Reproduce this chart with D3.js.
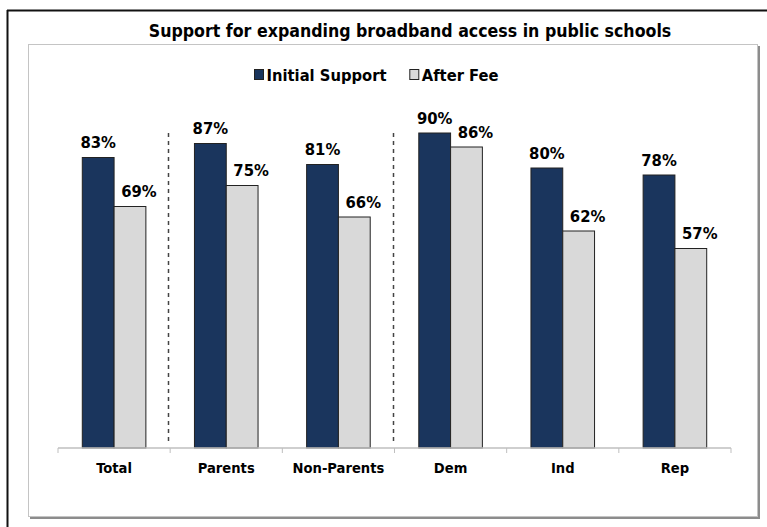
<!DOCTYPE html>
<html>
<head>
<meta charset="utf-8">
<script src="https://cdn.jsdelivr.net/npm/d3@7"></script>
<style>
  html, body { margin: 0; padding: 0; background: #fff; }
  svg { display: block; }
  text { font-family: "DejaVu Sans Condensed", "DejaVu Sans", Tahoma, sans-serif; font-weight: bold; fill: #000; }
</style>
</head>
<body>
<svg id="chart" width="767" height="527"></svg>
<script>
const title = "Support for expanding broadband access in public schools";
const categories = ["Total", "Parents", "Non-Parents", "Dem", "Ind", "Rep"];
const seriesNames = ["Initial Support", "After Fee"];
const initialSupport = [83, 87, 81, 90, 80, 78];
const afterFee = [69, 75, 66, 86, 62, 57];
const separatorsAfter = ["Total", "Non-Parents"];

const colors = ["#1a355d", "#d9d9d9"];
const values = [initialSupport, afterFee];
const labelShift = [0, 9];

const svg = d3.select("#chart");
const W = 767, H = 527;

// outer frame (black)
svg.append("line").attr("x1", 7).attr("x2", W).attr("y1", 10.5).attr("y2", 10.5)
  .attr("stroke", "#111").attr("stroke-width", 2);
svg.append("line").attr("x1", 7.5).attr("x2", 7.5).attr("y1", 10).attr("y2", H)
  .attr("stroke", "#111").attr("stroke-width", 2);

// inner box with shadow
svg.append("rect").attr("x", 30).attr("y", 46).attr("width", 730).attr("height", 473)
  .attr("fill", "#8c8c8c");
svg.append("rect").attr("x", 28.5).attr("y", 44.5).attr("width", 729).attr("height", 472)
  .attr("fill", "#fff").attr("stroke", "#c4c4c4").attr("stroke-width", 1);

// title
svg.append("text").attr("x", 410).attr("y", 37).attr("text-anchor", "middle")
  .style("font-size", "17.6px").text(title);

// scales
const x0 = d3.scaleBand().domain(categories).range([58, 731]).paddingInner(0).paddingOuter(0);
const x1 = d3.scaleBand().domain(seriesNames).range([0, x0.bandwidth()]).paddingInner(0).paddingOuter(0.764);
const y = d3.scaleLinear().domain([0, 100]).range([448, 98]);

// separators
separatorsAfter.forEach(c => {
  const xx = Math.round(x0(c) + x0.bandwidth()) - 1.5;
  svg.append("line").attr("x1", xx).attr("x2", xx).attr("y1", 133).attr("y2", 442)
    .attr("stroke", "#444").attr("stroke-width", 1.5).attr("stroke-dasharray", "4,4");
});

// bars
const groups = svg.append("g").selectAll("g").data(categories).join("g")
  .attr("transform", d => `translate(${x0(d)},0)`);

seriesNames.forEach((s, si) => {
  groups.append("rect")
    .attr("x", x1(s))
    .attr("y", (d, i) => y(values[si][i]))
    .attr("width", x1.bandwidth())
    .attr("height", (d, i) => y(0) - y(values[si][i]))
    .attr("fill", colors[si])
    .attr("stroke", "#222").attr("stroke-width", 1);
  groups.append("text")
    .attr("x", x1(s) + x1.bandwidth() / 2 + labelShift[si])
    .attr("y", (d, i) => y(values[si][i]) - 9.5)
    .attr("text-anchor", "middle")
    .style("font-size", "16.5px")
    .text((d, i) => values[si][i] + "%");
});

// x axis
const axis = d3.axisBottom(x0).tickSize(0).tickFormat("");
const ag = svg.append("g").attr("transform", "translate(0,448)").call(axis);
ag.select(".domain").attr("stroke", "#bfbfbf").attr("stroke-width", 1.5)
  .attr("d", "M58,0H731");
const bounds = categories.map(c => x0(c)).concat([731]);
ag.selectAll(".btick").data(bounds).join("line").attr("class", "btick")
  .attr("x1", d => d).attr("x2", d => d).attr("y1", 0).attr("y2", 5)
  .attr("stroke", "#bfbfbf").attr("stroke-width", 1);
ag.selectAll(".clabel").data(categories).join("text").attr("class", "clabel")
  .attr("x", d => x0(d) + x0.bandwidth() / 2).attr("y", 25)
  .attr("text-anchor", "middle").style("font-size", "14.6px").text(d => d);

// legend
const legend = svg.append("g").attr("transform", "translate(254,69)");
const legX = [0, 155.3];
seriesNames.forEach((s, i) => {
  const g = legend.append("g").attr("transform", `translate(${legX[i]},0)`);
  g.append("rect").attr("x", 0.5).attr("y", 0.5).attr("width", 9).attr("height", 10)
    .attr("fill", colors[i]).attr("stroke", "#222").attr("stroke-width", 1);
  g.append("text").attr("x", 12.5).attr("y", 11.8).style("font-size", "16.4px").text(s);
});
</script>
</body>
</html>
